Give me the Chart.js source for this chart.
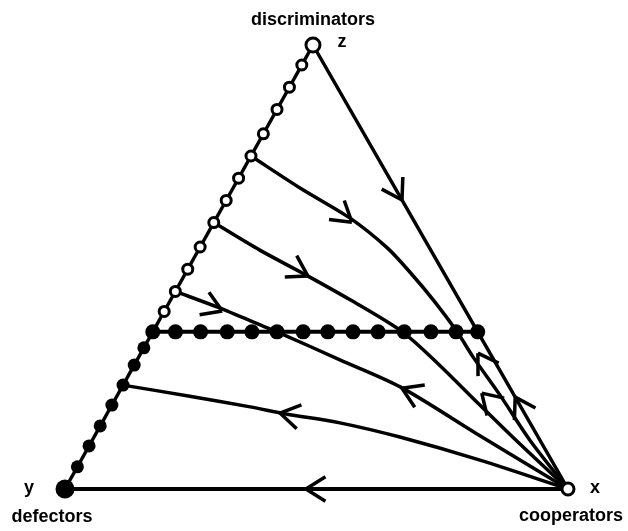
<!DOCTYPE html>
<html><head><meta charset="utf-8">
<script src="https://cdn.jsdelivr.net/npm/chart.js@4"></script>
<style>html,body{margin:0;padding:0;background:#fff;overflow:hidden}</style>
</head><body>
<canvas id="c" width="628" height="531"></canvas>
<script>
// ---- data (barycentric: [x = cooperators, z = discriminators]; y = defectors = 1 - x - z) ----
const cornerNames = ['discriminators', 'defectors', 'cooperators'];
const vertexLetters = ['z', 'y', 'x'];
const openEdgeZ = [0.955, 0.905, 0.855, 0.80, 0.75, 0.70, 0.65, 0.60, 0.545, 0.495, 0.445, 0.40];
const filledEdgeZ = [0.318, 0.279, 0.234, 0.189, 0.142, 0.097, 0.050];
const lineZ = 0.354;
const lineDotsX = [0, 0.045, 0.095, 0.148, 0.197, 0.247, 0.299, 0.348, 0.398, 0.448, 0.5, 0.553, 0.603, 0.646];
const orbitEdgeZX = [[0, 1], [0.646, 0.354], [1, 0]];
const orbit2 = [[0, 0.75], [0.133, 0.678], [0.266, 0.61], [0.373, 0.543], [0.448, 0.486], [0.522, 0.426], [0.605, 0.354], [0.665, 0.297], [0.76, 0.212], [0.87, 0.11], [1, 0]];
const orbit3 = [[0, 0.60], [0.122, 0.538], [0.233, 0.486], [0.357, 0.426], [0.496, 0.354], [0.6, 0.284], [0.722, 0.196], [0.845, 0.108], [1, 0]];
const orbit4 = [[0, 0.445], [0.1, 0.41], [0.223, 0.363], [0.247, 0.354], [0.403, 0.291], [0.553, 0.23], [0.758, 0.124], [1, 0]];
const orbit5 = [[0, 0.234], [0.145, 0.209], [0.277, 0.185], [0.356, 0.169], [0.473, 0.149], [0.608, 0.117], [0.793, 0.065], [1, 0]];
const orbitBase = [[1, 0], [0, 0]];
const edgeYZ = [[0, 0], [0, 1]];
// arrows: [orbit name, x, z, direction along orbit (+1 forward / -1 backward)]
const arrowMarks = [
  ['edge', 0.349, 0.651, 1], ['edge', 0.793, 0.207, -1],
  ['o2', 0.274, 0.601, 1], ['o2', 0.670, 0.306, -1],
  ['o3', 0.246, 0.480, 1], ['o3', 0.722, 0.216, -1],
  ['o4', 0.115, 0.401, 1], ['o4', 0.558, 0.227, -1],
  ['o5', 0.343, 0.171, -1],
  ['base', 0.479, 0, 1]
];

// ---- projection of the simplex ----
const APEX_U = 0.493;
const cart = p => ({x: p[0] + APEX_U * p[1], y: p[1]});
const orbits = {edge: orbitEdgeZX, o2: orbit2, o3: orbit3, o4: orbit4, o5: orbit5, base: orbitBase};

const lineDS = (pts, w, t) => ({
  data: pts.map(cart), showLine: true, borderColor: '#000', borderWidth: w,
  pointRadius: 0, tension: t, fill: false, order: 2
});
const dotDS = (pts, r, bw, fillCol) => ({
  data: pts.map(cart), showLine: false, pointRadius: r, pointBorderWidth: bw,
  pointBackgroundColor: fillCol, pointBorderColor: '#000', order: 0
});

const datasets = [
  lineDS(edgeYZ, 3.5, 0),
  lineDS(orbitBase, 4, 0),
  lineDS(orbitEdgeZX, 3.5, 0),
  lineDS(orbit2, 3.5, 0.3),
  lineDS(orbit3, 3.5, 0.3),
  lineDS(orbit4, 3.5, 0.3),
  lineDS(orbit5, 3.5, 0.3),
  lineDS([[0, lineZ], [lineDotsX[lineDotsX.length - 1], lineZ]], 4, 0),
  dotDS(openEdgeZ.map(z => [0, z]), 5, 3, '#fff'),
  dotDS(filledEdgeZ.map(z => [0, z]), 6.5, 0, '#000'),
  dotDS(lineDotsX.map(x => [x, lineZ]), 7.5, 0, '#000'),
  dotDS([[0, 1]], 7, 3, '#fff'),
  dotDS([[1, 0]], 6, 3, '#fff'),
  dotDS([[0, 0]], 9.5, 0, '#000')
];

const arrowPlugin = {
  id: 'arrows',
  afterDatasetsDraw(chart) {
    const {ctx, scales: {x: sx, y: sy}} = chart;
    const px = p => { const c = cart(p); return [sx.getPixelForValue(c.x), sy.getPixelForValue(c.y)]; };
    ctx.save();
    ctx.strokeStyle = '#000'; ctx.lineWidth = 3.5; ctx.lineCap = 'butt'; ctx.lineJoin = 'miter';
    arrowMarks.forEach(([name, ax, az, dir]) => {
      const pts = orbits[name].map(px);
      const tip = px([ax, az]);
      let best = 0, bd = Infinity;
      for (let i = 0; i < pts.length - 1; i++) {
        const mx = (pts[i][0] + pts[i + 1][0]) / 2, my = (pts[i][1] + pts[i + 1][1]) / 2;
        const d = Math.hypot(mx - tip[0], my - tip[1]);
        if (d < bd) { bd = d; best = i; }
      }
      let dx = pts[best + 1][0] - pts[best][0], dy = pts[best + 1][1] - pts[best][1];
      const n = Math.hypot(dx, dy); dx = dx / n * dir; dy = dy / n * dir;
      const L = 23, a = 32 * Math.PI / 180;
      ctx.beginPath();
      [a, -a].forEach(t => {
        const bx = -dx * Math.cos(t) + dy * Math.sin(t);
        const by = -dx * Math.sin(t) - dy * Math.cos(t);
        ctx.moveTo(tip[0] + bx * L, tip[1] + by * L);
        ctx.lineTo(tip[0], tip[1]);
      });
      ctx.stroke();
    });
    ctx.restore();
  },
  afterDraw(chart) {
    const {ctx, scales: {x: sx, y: sy}} = chart;
    const px = p => { const c = cart(p); return [sx.getPixelForValue(c.x), sy.getPixelForValue(c.y)]; };
    const zv = px([0, 1]), yv = px([0, 0]), xv = px([1, 0]);
    ctx.save();
    ctx.fillStyle = '#000';
    ctx.font = 'bold 18px "Liberation Sans", Arial, sans-serif';
    ctx.textAlign = 'center'; ctx.textBaseline = 'alphabetic';
    ctx.fillText(cornerNames[0], zv[0], zv[1] - 20);
    ctx.fillText(vertexLetters[0], zv[0] + 29, zv[1] + 2);
    ctx.fillText(vertexLetters[1], yv[0] - 36, yv[1] + 4);
    ctx.fillText(cornerNames[1], yv[0] - 13, yv[1] + 33);
    ctx.fillText(vertexLetters[2], xv[0] + 27, xv[1] + 4);
    ctx.fillText(cornerNames[2], xv[0] + 3, xv[1] + 32);
    ctx.restore();
  }
};

new Chart(document.getElementById('c'), {
  type: 'scatter',
  data: {datasets},
  options: {
    responsive: false, devicePixelRatio: 1, animation: false, events: [],
    layout: {padding: 0, autoPadding: false},
    plugins: {legend: {display: false}, tooltip: {enabled: false}},
    scales: {
      x: {type: 'linear', display: false, min: -65 / 503, max: 1 + 60 / 503},
      y: {type: 'linear', display: false, min: -42 / 444, max: 1 + 45 / 444}
    }
  },
  plugins: [arrowPlugin]
});
</script>
</body></html>
